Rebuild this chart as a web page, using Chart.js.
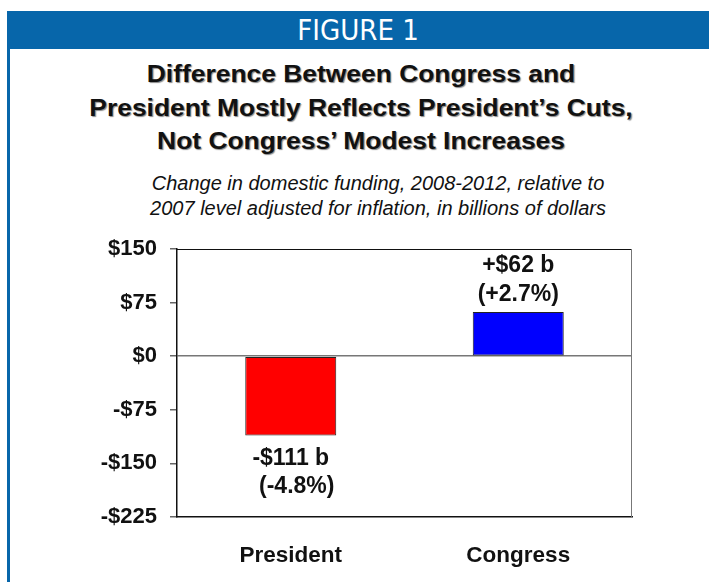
<!DOCTYPE html>
<html>
<head>
<meta charset="utf-8">
<script src="https://cdn.jsdelivr.net/npm/chart.js@4.4.1/dist/chart.umd.min.js"></script>
<style>
  html, body { margin:0; padding:0; background:#fff; }
  body { width:709px; height:582px; position:relative; overflow:hidden; font-family:"Liberation Sans", Arial, sans-serif; }
  #band { position:absolute; left:7px; top:11px; width:702px; height:38px; background:#0766aa; color:#fff;
          font-family:"Liberation Sans Narrow","DejaVu Sans Condensed",sans-serif; font-size:29px; line-height:38px; text-align:center; }
  #leftbar { position:absolute; left:7px; top:11px; width:3px; height:571px; background:#0766aa; }
  #title { position:absolute; left:0; width:722px; top:57px; text-align:center; font-weight:bold; font-size:24px; line-height:33.5px;
           color:#111; text-shadow:1px 1px 1px #888; transform:scaleX(1.1); transform-origin:361px 0; }
  #subtitle { position:absolute; left:0; width:756px; top:171px; text-align:center; font-style:italic; font-size:20px; line-height:25px; color:#111; }
  #c { position:absolute; left:0; top:230px; }
</style>
</head>
<body>
<div id="band">FIGURE 1</div>
<div id="leftbar"></div>
<div id="title">Difference Between Congress and<br>President Mostly Reflects President’s Cuts,<br>Not Congress’ Modest Increases</div>
<div id="subtitle">Change in domestic funding, 2008-2012, relative to<br>2007 level adjusted for inflation, in billions of dollars</div>
<canvas id="c" width="709" height="352"></canvas>
<script>
const categories = ['President', 'Congress'];
const values = [-111, 62];
const amountLabels = ['-$111 b', '+$62 b'];
const percentLabels = ['(-4.8%)', '(+2.7%)'];
const barColors = ['#ff0000', '#0000ff'];
const yTickValues = [-225, -150, -75, 0, 75, 150];
const yTickLabels = ['-$225', '-$150', '-$75', '$0', '$75', '$150'];

const FONT = '"Liberation Sans", Arial, sans-serif';

const frame = {
  id: 'frame',
  afterDatasetsDraw(chart) {
    const {ctx, chartArea: a} = chart;
    ctx.save();
    ctx.lineWidth = 1;
    ctx.strokeStyle = '#111';
    ctx.beginPath(); ctx.moveTo(a.left, a.top + 0.5); ctx.lineTo(a.right, a.top + 0.5); ctx.stroke();
    ctx.strokeStyle = '#777';
    ctx.beginPath(); ctx.moveTo(a.right - 0.5, a.top); ctx.lineTo(a.right - 0.5, a.bottom); ctx.stroke();
    ctx.restore();
  }
};

const barLabels = {
  id: 'barLabels',
  afterDatasetsDraw(chart) {
    const ctx = chart.ctx;
    const meta = chart.getDatasetMeta(0);
    ctx.save();
    ctx.font = 'bold 23px ' + FONT;
    ctx.fillStyle = '#111';
    ctx.textAlign = 'center';
    ctx.textBaseline = 'middle';
    meta.data.forEach((el, i) => {
      const v = values[i];
      if (v >= 0) {
        ctx.fillText(amountLabels[i], el.x, el.y - 46);
        ctx.fillText(percentLabels[i], el.x, el.y - 17);
      } else {
        ctx.fillText(amountLabels[i], el.x, el.y + 23);
        ctx.fillText(percentLabels[i], el.x + 6, el.y + 51);
      }
    });
    ctx.restore();
  }
};

new Chart(document.getElementById('c'), {
  type: 'bar',
  data: {
    labels: categories,
    datasets: [{
      data: values,
      backgroundColor: barColors,
      borderColor: '#222',
      borderWidth: 1,
      borderSkipped: false,
      barPercentage: 0.4,
      categoryPercentage: 1.0
    }]
  },
  options: {
    responsive: false,
    animation: false,
    devicePixelRatio: 1,
    layout: { padding: { top: 19, right: 77, left: 0, bottom: 0 } },
    plugins: { legend: { display: false }, tooltip: { enabled: false }, title: { display: false } },
    scales: {
      x: {
        grid: { display: false },
        border: { display: true, color: '#111', width: 1.5 },
        ticks: { color: '#111', font: { family: FONT, size: 22.5, weight: 'bold' }, padding: 17 },
        afterFit(s) { s.height = 65; s.paddingLeft = 0; s.paddingRight = 0; }
      },
      y: {
        min: -225, max: 150,
        afterBuildTicks(s) { s.ticks = yTickValues.map(v => ({ value: v })); },
        grid: {
          color: c => (c.tick && c.tick.value === 0) ? '#777' : 'rgba(0,0,0,0)',
          tickColor: '#666',
          tickLength: 7,
          lineWidth: 1.5
        },
        border: { display: true, color: '#111', width: 1.5 },
        ticks: {
          color: '#111',
          font: { family: FONT, size: 22, weight: 'bold' },
          padding: 13,
          callback: (v) => yTickLabels[yTickValues.indexOf(v)]
        },
        afterFit(s) { s.width = 177; s.paddingTop = 0; s.paddingBottom = 0; }
      }
    }
  },
  plugins: [frame, barLabels]
});
</script>
</body>
</html>
